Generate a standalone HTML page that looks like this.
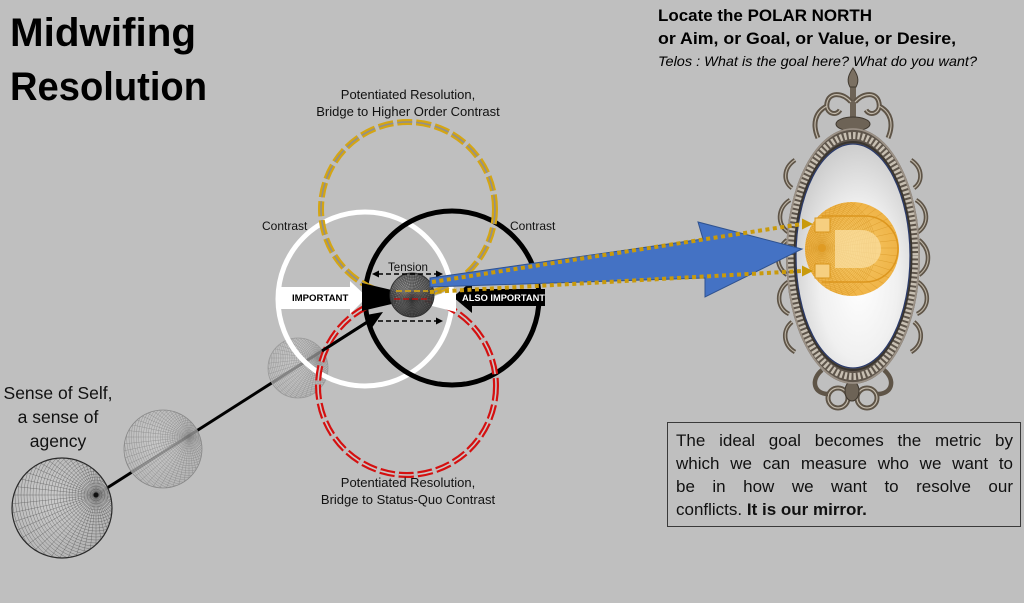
<!DOCTYPE html>
<html><head><meta charset="utf-8">
<style>
html,body{margin:0;padding:0;}
body{width:1024px;height:603px;background:#bfbfbf;position:relative;overflow:hidden;font-family:"Liberation Sans",sans-serif;}
svg{position:absolute;left:0;top:0;}
.box{position:absolute;left:667px;top:422px;width:354px;height:105px;box-sizing:border-box;border:1.5px solid #3a3a3a;}
.ln{position:absolute;left:676px;width:337px;font-size:17px;line-height:23px;height:23px;text-align:justify;text-align-last:justify;color:#111;}
.ln.l{text-align:left;text-align-last:left;}
</style></head><body>
<svg width="1024" height="603" viewBox="0 0 1024 603" xmlns="http://www.w3.org/2000/svg">
<defs>
 <g id="mesh" fill="none">
  <circle r="3"/><circle r="6"/><circle r="9"/><circle r="12"/><circle r="15"/><circle r="18"/><circle r="21"/><circle r="24"/><circle r="27"/><circle r="30"/>
  <circle r="33"/><circle r="36"/><circle r="39"/><circle r="42"/><circle r="45"/><circle r="48"/><circle r="51"/><circle r="54"/><circle r="57"/><circle r="60"/>
  <circle r="63"/><circle r="66"/><circle r="69"/><circle r="72"/><circle r="75"/><circle r="78"/><circle r="81"/><circle r="84"/><circle r="87"/><circle r="90"/>
  <path d="M-130 0L130 0M-129.3 -13.6L129.3 13.6M-127.2 -27L127.2 27M-123.6 -40.2L123.6 40.2M-118.8 -52.9L118.8 52.9M-112.6 -65L112.6 65M-105.2 -76.4L105.2 76.4M-96.6 -87L96.6 87M-87 -96.6L87 96.6M-76.4 -105.2L76.4 105.2M-65 -112.6L65 112.6M-52.9 -118.8L52.9 118.8M-40.2 -123.6L40.2 123.6M-27 -127.2L27 127.2M-13.6 -129.3L13.6 129.3M0 -130L0 130M13.6 -129.3L-13.6 129.3M27 -127.2L-27 127.2M40.2 -123.6L-40.2 123.6M52.9 -118.8L-52.9 118.8M65 -112.6L-65 112.6M76.4 -105.2L-76.4 105.2M87 -96.6L-87 96.6M96.6 -87L-96.6 87M105.2 -76.4L-105.2 76.4M112.6 -65L-112.6 65M118.8 -52.9L-118.8 52.9M123.6 -40.2L-123.6 40.2M127.2 -27L-127.2 27M129.3 -13.6L-129.3 13.6"/>
 </g>
 <clipPath id="cBig"><circle cx="62" cy="508" r="50"/></clipPath>
 <clipPath id="cMed"><circle cx="163" cy="449" r="39"/></clipPath>
 <clipPath id="cSm"><circle cx="298" cy="368" r="30"/></clipPath>
 <clipPath id="cTen"><circle cx="412" cy="295" r="22"/></clipPath>
 <clipPath id="cGold"><circle cx="852" cy="249" r="47"/></clipPath>
 <radialGradient id="gGlass" cx="0.55" cy="0.62" r="0.62">
  <stop offset="0" stop-color="#ffffff"/><stop offset="0.55" stop-color="#f0f0f0"/><stop offset="1" stop-color="#cdcdcd"/>
 </radialGradient>
 <radialGradient id="gTen" cx="0.4" cy="0.35" r="0.7">
  <stop offset="0" stop-color="#9c9c9c"/><stop offset="1" stop-color="#3a3a3a"/>
 </radialGradient>
 <radialGradient id="gSph" cx="0.4" cy="0.4" r="0.7">
  <stop offset="0" stop-color="#cdcdcd"/><stop offset="1" stop-color="#b0b0b0"/>
 </radialGradient>
 <radialGradient id="gGold" cx="0.5" cy="0.5" r="0.55">
  <stop offset="0" stop-color="#f6c55a"/><stop offset="1" stop-color="#eeaa30"/>
 </radialGradient>
</defs>

<rect width="1024" height="603" fill="#bfbfbf"/>

<!-- black agency line (under spheres) -->
<line x1="96" y1="495" x2="368.7" y2="321.1" stroke="#000" stroke-width="3"/>

<!-- big sphere -->
<circle cx="62" cy="508" r="50" fill="url(#gSph)" opacity="0.92"/>
<g clip-path="url(#cBig)" opacity="0.7"><use href="#mesh" transform="translate(96 495)" stroke="#2a2a2a" stroke-width="0.35"/></g>
<circle cx="62" cy="508" r="50" fill="none" stroke="#2a2a2a" stroke-width="1.2"/>
<circle cx="96" cy="495" r="2.5" fill="#111"/>

<!-- medium sphere -->
<circle cx="163" cy="449" r="39" fill="url(#gSph)" opacity="0.75"/>
<g clip-path="url(#cMed)" opacity="0.6"><use href="#mesh" transform="translate(189 437) scale(0.8)" stroke="#666" stroke-width="0.5"/></g>
<circle cx="163" cy="449" r="39" fill="none" stroke="#888" stroke-width="0.8"/>

<!-- small sphere -->
<circle cx="298" cy="368" r="30" fill="url(#gSph)" opacity="0.7"/>
<g clip-path="url(#cSm)" opacity="0.55"><use href="#mesh" transform="translate(318 358) scale(0.6)" stroke="#666" stroke-width="0.6"/></g>
<circle cx="298" cy="368" r="30" fill="none" stroke="#999" stroke-width="0.8"/>

<!-- contrast circles -->
<circle cx="365" cy="299" r="87" fill="none" stroke="#ffffff" stroke-width="5"/>
<circle cx="452" cy="298" r="87" fill="none" stroke="#000000" stroke-width="5"/>

<!-- yellow dashed circle -->
<circle cx="408" cy="209" r="87" fill="none" stroke="#d4a514" stroke-width="6" stroke-dasharray="15 4"/>
<circle cx="408" cy="209" r="87" fill="none" stroke="#8f8f8f" stroke-width="1.6" stroke-dasharray="15 4"/>
<!-- red dashed circle -->
<circle cx="407" cy="386" r="89" fill="none" stroke="#d41010" stroke-width="6" stroke-dasharray="15 4"/>
<circle cx="407" cy="386" r="89" fill="none" stroke="#c8c8c8" stroke-width="1.6" stroke-dasharray="15 4"/>

<!-- line over circles + arrowhead -->
<line x1="322" y1="351" x2="368.7" y2="321.1" stroke="#000" stroke-width="3"/>
<polygon points="383,312 372.5,327 364.9,315.2" fill="#000"/>

<!-- IMPORTANT arrows -->
<polygon points="277,287 350,287 350,281 367,297 350,314 350,309 277,309" fill="#ffffff"/>
<polygon points="362,283 396,291 396,303 362,311" fill="#000"/>
<polygon points="545,289 472,289 472,281 453,297 472,313 472,306 545,306" fill="#000"/>
<polygon points="432,297 456,288 456,312 432,306" fill="#ffffff"/>
<text x="292" y="301" font-family="Liberation Sans, sans-serif" font-weight="bold" font-size="9.6" fill="#000">IMPORTANT</text>
<text x="462" y="301" font-family="Liberation Sans, sans-serif" font-weight="bold" font-size="9.3" fill="#fff">ALSO IMPORTANT</text>

<!-- tension sphere -->
<circle cx="412" cy="295" r="22" fill="url(#gTen)" opacity="0.92"/>
<g clip-path="url(#cTen)" opacity="0.7"><use href="#mesh" transform="translate(412 300) scale(0.5)" stroke="#1a1a1a" stroke-width="0.8"/></g>
<line x1="396" y1="291" x2="428" y2="291" stroke="#d4a514" stroke-width="2" stroke-dasharray="6 3" opacity="0.8"/>
<line x1="394" y1="299" x2="430" y2="299" stroke="#c01010" stroke-width="2" stroke-dasharray="6 3" opacity="0.7"/>
<circle cx="412" cy="295" r="22" fill="none" stroke="#333" stroke-width="1"/>

<!-- tension dashed arrows -->
<line x1="378" y1="274" x2="437" y2="274" stroke="#000" stroke-width="1.4" stroke-dasharray="5 3"/>
<polygon points="372,274 379,270.5 379,277.5" fill="#000"/>
<polygon points="443,274 436,270.5 436,277.5" fill="#000"/>
<line x1="378" y1="321" x2="437" y2="321" stroke="#000" stroke-width="1.4" stroke-dasharray="5 3"/>
<polygon points="443,321 436,317.5 436,324.5" fill="#000"/>

<!-- mirror -->
<g>
 <!-- top ornament -->
 <rect x="850" y="84" width="6" height="40" fill="#6d6356"/>
 <path d="M853 68 C857 74 860 80 856 87 L850 87 C846 80 849 74 853 68Z" fill="#7b7062" stroke="#3f382f" stroke-width="1"/>
 <path d="M851 102 C842 92 829 92 827 103 C825 113 836 117 840 110" fill="none" stroke="#5e5447" stroke-width="5"/>
 <path d="M855 102 C864 92 877 92 879 103 C881 113 870 117 866 110" fill="none" stroke="#5e5447" stroke-width="5"/>
 <path d="M827 106 C815 112 812 124 818 138" fill="none" stroke="#5e5447" stroke-width="5"/>
 <path d="M879 106 C891 112 894 124 888 138" fill="none" stroke="#5e5447" stroke-width="5"/>
 <path d="M851 102 C842 92 829 92 827 103 C825 113 836 117 840 110 M855 102 C864 92 877 92 879 103 C881 113 870 117 866 110 M827 106 C815 112 812 124 818 138 M879 106 C891 112 894 124 888 138" fill="none" stroke="#c2b9aa" stroke-width="1.2"/>
 <ellipse cx="853" cy="124" rx="17" ry="7" fill="#6d6356" stroke="#3f382f" stroke-width="1"/>
 <!-- bottom ornament -->
 <circle cx="838" cy="398" r="10" fill="none" stroke="#5e5447" stroke-width="5"/>
 <circle cx="867" cy="398" r="10" fill="none" stroke="#5e5447" stroke-width="5"/>
 <circle cx="838" cy="398" r="10" fill="none" stroke="#c2b9aa" stroke-width="1.2"/>
 <circle cx="867" cy="398" r="10" fill="none" stroke="#c2b9aa" stroke-width="1.2"/>
 <ellipse cx="852" cy="391" rx="7" ry="10" fill="#6d6356" stroke="#3f382f" stroke-width="1"/>
 <path d="M822 370 C810 380 814 394 828 394 M884 370 C896 380 892 394 878 394" fill="none" stroke="#5e5447" stroke-width="4.5"/>
 <!-- side scrolls attached to frame -->
 <g fill="none" stroke="#5e5447" stroke-width="4.5">
  <path d="M795 160 C783 168 783 182 792 188"/>
  <path d="M790 200 C777 208 777 225 788 232"/>
  <path d="M787 240 C775 250 775 266 787 275"/>
  <path d="M788 282 C776 290 776 308 789 314"/>
  <path d="M792 322 C782 330 783 345 795 352"/>
  <path d="M911 160 C923 168 923 182 914 188"/>
  <path d="M916 200 C929 208 929 225 918 232"/>
  <path d="M919 240 C931 250 931 266 919 275"/>
  <path d="M918 282 C930 290 930 308 917 314"/>
  <path d="M914 322 C924 330 923 345 911 352"/>
 </g>
 <g fill="none" stroke="#bdb4a5" stroke-width="1.1">
  <path d="M795 160 C783 168 783 182 792 188"/>
  <path d="M790 200 C777 208 777 225 788 232"/>
  <path d="M787 240 C775 250 775 266 787 275"/>
  <path d="M788 282 C776 290 776 308 789 314"/>
  <path d="M792 322 C782 330 783 345 795 352"/>
  <path d="M911 160 C923 168 923 182 914 188"/>
  <path d="M916 200 C929 208 929 225 918 232"/>
  <path d="M919 240 C931 250 931 266 919 275"/>
  <path d="M918 282 C930 290 930 308 917 314"/>
  <path d="M914 322 C924 330 923 345 911 352"/>
 </g>
 <!-- frame ring -->
 <ellipse cx="853" cy="256" rx="67" ry="128" fill="#5e554b"/>
 <ellipse cx="853" cy="256" rx="62" ry="120.5" fill="none" stroke="#c7bfb2" stroke-width="7" stroke-dasharray="2.5 2"/>
 <ellipse cx="853" cy="256" rx="66" ry="127" fill="none" stroke="#9a9085" stroke-width="1.8"/>
 <ellipse cx="853" cy="256" rx="58.5" ry="114" fill="none" stroke="#3a352f" stroke-width="2"/>
 <!-- glass -->
 <ellipse cx="853" cy="256" rx="57" ry="112" fill="url(#gGlass)" stroke="#2a3a6a" stroke-width="1.2"/>
 <!-- gold magnet sphere -->
 <circle cx="852" cy="249" r="47" fill="url(#gGold)" opacity="0.9"/>
 <g clip-path="url(#cGold)" opacity="0.45"><use href="#mesh" transform="translate(822 248) scale(0.6)" stroke="#c47e08" stroke-width="0.8"/></g>
 <path d="M835 230 L862 230 A19 19 0 0 1 862 268 L835 268 Z" fill="#fbe1a6" opacity="0.7"/>
 <path d="M822 216 L865 216 A33 33 0 0 1 865 282 L822 282" fill="none" stroke="#dc961e" stroke-width="1.5"/>
 <rect x="815" y="218" width="15" height="14" fill="#f6cf80" stroke="#d8951c" stroke-width="1"/>
 <rect x="815" y="264" width="15" height="14" fill="#f6cf80" stroke="#d8951c" stroke-width="1"/>
 <circle cx="822" cy="248" r="4" fill="#e09a20" opacity="0.8"/>
</g>

<!-- blue arrow -->
<polygon points="430,278 703,239 698,222 802,249 705,297 705,278 430,287" fill="#4472c4" stroke="#2f528f" stroke-width="1"/>

<!-- dotted gold lines -->
<line x1="432" y1="282" x2="802" y2="224" stroke="#c99a0b" stroke-width="4" stroke-dasharray="4 3.5"/>
<line x1="430" y1="292" x2="802" y2="271" stroke="#c99a0b" stroke-width="4" stroke-dasharray="4 3.5"/>
<polygon points="813,224 802,218.5 802,229.5" fill="#c99a0b"/>
<polygon points="813,271 802,265.5 802,276.5" fill="#c99a0b"/>

<!-- texts -->
<g font-family="Liberation Sans, sans-serif" fill="#000">
 <text x="10" y="46" font-size="40" font-weight="bold" textLength="186" lengthAdjust="spacingAndGlyphs">Midwifing</text>
 <text x="10" y="100" font-size="40" font-weight="bold" textLength="197" lengthAdjust="spacingAndGlyphs">Resolution</text>

 <text x="658" y="21" font-size="17" font-weight="bold" textLength="214" lengthAdjust="spacingAndGlyphs">Locate the POLAR NORTH</text>
 <text x="658" y="44" font-size="17" font-weight="bold" textLength="298" lengthAdjust="spacingAndGlyphs">or Aim, or Goal, or Value, or Desire,</text>
 <text x="658" y="66" font-size="14" font-style="italic" textLength="319" lengthAdjust="spacingAndGlyphs">Telos : What is the goal here? What do you want?</text>

 <text x="408" y="99" font-size="13" text-anchor="middle" fill="#111">Potentiated Resolution,</text>
 <text x="408" y="116" font-size="13" text-anchor="middle" fill="#111">Bridge to Higher Order Contrast</text>
 <text x="262" y="230" font-size="12" fill="#111">Contrast</text>
 <text x="510" y="230" font-size="12" fill="#111">Contrast</text>
 <text x="408" y="271" font-size="11.6" text-anchor="middle" fill="#111">Tension</text>
 <text x="408" y="487" font-size="13" text-anchor="middle" fill="#111">Potentiated Resolution,</text>
 <text x="408" y="504" font-size="13" text-anchor="middle" fill="#111">Bridge to Status-Quo Contrast</text>

 <text x="58" y="399" font-size="17.5" text-anchor="middle" fill="#111">Sense of Self,</text>
 <text x="58" y="423" font-size="17.5" text-anchor="middle" fill="#111">a sense of</text>
 <text x="58" y="447" font-size="17.5" text-anchor="middle" fill="#111">agency</text>
</g>
</svg>

<div class="box"></div>
<div class="ln" style="top:429px;">The ideal goal becomes the metric by</div>
<div class="ln" style="top:452px;">which we can measure who we want to</div>
<div class="ln" style="top:475px;">be in how we want to resolve our</div>
<div class="ln l" style="top:498px;">conflicts. <b>It is our mirror.</b></div>
</body></html>
